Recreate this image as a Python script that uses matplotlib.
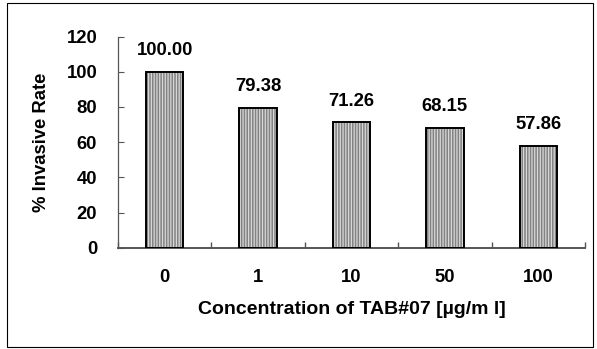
import matplotlib
matplotlib.use("Agg")
import matplotlib.pyplot as plt
from matplotlib.patches import Rectangle
import numpy as np

plt.rcParams['font.family'] = ['Liberation Sans', 'DejaVu Sans']
plt.rcParams['font.weight'] = 'bold'
plt.rcParams['hatch.linewidth'] = 0.9

categories = ['0', '1', '10', '50', '100']
values = [100.00, 79.38, 71.26, 68.15, 57.86]
yticks = [0, 20, 40, 60, 80, 100, 120]

W, H = 597, 349
fig = plt.figure(figsize=(W / 100, H / 100), dpi=100)
fig.patch.set_facecolor('white')

# outer frame around the whole chart
fig.patches.append(Rectangle((7 / W, 2 / H), 586 / W, 344 / H, transform=fig.transFigure,
                             fill=False, edgecolor='black', linewidth=0.8))

ax = fig.add_axes([118 / W, 1 - 247.7 / H, (585 - 118) / W, (247.7 - 36.5) / H])
x = np.arange(len(categories))

# patterned fill, then a solid black outline on top
ax.bar(x, values, width=0.4, color='#828282', edgecolor='#d8d8d8', hatch='||||||', linewidth=0, zorder=2)
ax.bar(x, values, width=0.4, fill=False, edgecolor='black', linewidth=1.4, zorder=3)

fs = 13.3
for xi, v in zip(x, values):
    ax.text(xi, v + 9.5, f'{v:.2f}', ha='center', va='baseline', fontsize=fs, fontweight='bold')

ax.set_xlim(-0.5, len(categories) - 0.5)
ax.set_ylim(0, 120)
ax.set_yticks(yticks)
ax.set_yticklabels([str(t) for t in yticks], fontsize=fs, fontweight='bold')
ax.set_xticks(x)
ax.set_xticklabels(categories, fontsize=fs, fontweight='bold')
ax.set_xticks(np.arange(len(categories) + 1) - 0.5, minor=True)
ax.tick_params(axis='x', which='major', length=0, pad=15)
ax.tick_params(axis='x', which='minor', length=4, width=1.0, direction='in', color='#555555')
ax.tick_params(axis='y', length=4, width=0.8, direction='in', pad=15, color='#555555')

for s in ['top', 'right']:
    ax.spines[s].set_visible(False)
ax.spines['left'].set_linewidth(0.9)
ax.spines['left'].set_color('#555555')
ax.spines['bottom'].set_linewidth(1.4)
ax.spines['bottom'].set_color('#555555')

ax.set_ylabel('% Invasive Rate', fontsize=fs, fontweight='bold', labelpad=12)
ax.set_xlabel('Concentration of TAB#07 [µg/m l]', fontsize=14, fontweight='bold', labelpad=11)

fig.savefig('out.png', dpi=100)
